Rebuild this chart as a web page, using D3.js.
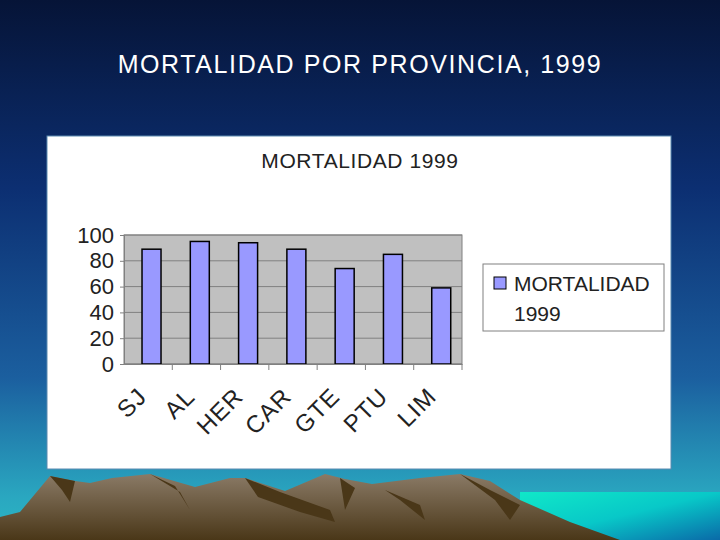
<!DOCTYPE html>
<html><head><meta charset="utf-8">
<script src="https://cdn.jsdelivr.net/npm/d3@7"></script>
<style>body{margin:0;}svg{display:block;}</style>
</head><body>
<div id="chart"></div>
<script>
var categories = ["SJ", "AL", "HER", "CAR", "GTE", "PTU", "LIM"];
var values = [89, 95, 94, 89, 74, 85, 59];
var yTicks = [0, 20, 40, 60, 80, 100];

var svg = d3.select("#chart").append("svg")
    .attr("width", 720)
    .attr("height", 540);

var defs = svg.append("defs");
var bg = defs.append("linearGradient").attr("id", "bg")
    .attr("x1", 0).attr("y1", 0).attr("x2", 0).attr("y2", 1);
bg.append("stop").attr("offset", "0").attr("stop-color", "#061437");
bg.append("stop").attr("offset", "0.35").attr("stop-color", "#0c2f72");
bg.append("stop").attr("offset", "0.7").attr("stop-color", "#1b5f9f");
bg.append("stop").attr("offset", "0.92").attr("stop-color", "#2aa7c0");
bg.append("stop").attr("offset", "1").attr("stop-color", "#2bb8c4");
var sea = defs.append("linearGradient").attr("id", "sea")
    .attr("x1", 0).attr("y1", 0).attr("x2", 1).attr("y2", 1);
sea.append("stop").attr("offset", "0").attr("stop-color", "#10e8c8");
sea.append("stop").attr("offset", "0.5").attr("stop-color", "#08c8c8");
sea.append("stop").attr("offset", "1").attr("stop-color", "#0a6aa8");
var mt = defs.append("linearGradient").attr("id", "mt")
    .attr("x1", 0).attr("y1", 0).attr("x2", 0).attr("y2", 1);
mt.append("stop").attr("offset", "0").attr("stop-color", "#8a7a66");
mt.append("stop").attr("offset", "1").attr("stop-color", "#4a3718");

svg.append("rect").attr("width", 720).attr("height", 540).attr("fill", "url(#bg)");
svg.append("rect").attr("x", 520).attr("y", 492).attr("width", 200).attr("height", 48).attr("fill", "url(#sea)");

// mountains (decoration)
svg.append("path").attr("fill", "url(#mt)")
    .attr("d", "M0,517 L20,512 L50,476 L75,481 L90,483 L112,478 L150,474 L195,487 L230,478 L245,478 L285,491 L325,474 L345,479 L372,484 L420,478 L460,474 L490,481 L520,500 L570,522 L620,540 L0,540 Z");
svg.append("path").attr("fill", "#4a3718")
    .attr("d", "M50,476 L75,481 L70,502 L62,490 Z M150,474 L175,486 L190,510 L180,492 Z M245,478 L280,492 L330,510 L335,522 L300,512 L258,497 Z M340,478 L355,488 L345,510 Z M385,490 L420,505 L425,520 L400,500 Z M460,474 L490,490 L520,505 L510,520 L495,500 Z");

var font = "Liberation Sans, Arial, sans-serif";
svg.append("text").attr("x", 360).attr("y", 73).attr("text-anchor", "middle")
    .attr("fill", "white").attr("font-family", font).attr("letter-spacing", 1.6)
    .attr("font-size", 25).text("MORTALIDAD POR PROVINCIA, 1999");

// white chart panel
svg.append("rect").attr("x", 47).attr("y", 136).attr("width", 624).attr("height", 333)
    .attr("fill", "white").attr("stroke", "#5a8ab0").attr("stroke-width", 1);

svg.append("text").attr("x", 360).attr("y", 168).attr("text-anchor", "middle")
    .attr("font-family", font).attr("font-size", 21).attr("letter-spacing", 0.6).attr("fill", "#222")
    .text("MORTALIDAD 1999");

var xb = d3.scaleBand().domain(categories).range([124, 462]);
var y = d3.scaleLinear().domain([0, 100]).range([364, 235]);
var barW = 19;

svg.append("rect").attr("x", 124).attr("y", 235).attr("width", 338).attr("height", 129)
    .attr("fill", "#c0c0c0").attr("stroke", "#808080");

svg.selectAll(".grid").data(yTicks).enter().append("line")
    .attr("x1", 124).attr("x2", 462)
    .attr("y1", function(d) { return y(d); }).attr("y2", function(d) { return y(d); })
    .attr("stroke", "#808080").attr("stroke-width", 1);

svg.selectAll(".bar").data(values).enter().append("rect")
    .attr("x", function(d, i) { return xb(categories[i]) + xb.bandwidth() * 0.57 - barW / 2; })
    .attr("y", function(d) { return y(d); })
    .attr("width", barW)
    .attr("height", function(d) { return y(0) - y(d); })
    .attr("fill", "#9999ff").attr("stroke", "#000").attr("stroke-width", 1.5);

var ya = svg.append("g").attr("transform", "translate(124,0)")
    .call(d3.axisLeft(y).tickValues(yTicks).tickSize(4).tickPadding(6));
ya.select(".domain").attr("stroke", "#808080");
ya.selectAll("line").attr("stroke", "#808080");
ya.selectAll("text").attr("font-family", font).attr("font-size", 22).attr("fill", "#222");

var xa = svg.append("g").attr("transform", "translate(0,364)")
    .call(d3.axisBottom(xb).tickSize(0).tickFormat(""));
xa.select(".domain").attr("stroke", "#808080");
svg.selectAll(".xtick").data(categories).enter().append("line")
    .attr("x1", function(d) { return xb(d) + xb.bandwidth(); })
    .attr("x2", function(d) { return xb(d) + xb.bandwidth(); })
    .attr("y1", 364).attr("y2", 370).attr("stroke", "#808080");

svg.selectAll(".xl").data(categories).enter().append("text")
    .attr("text-anchor", "end")
    .attr("transform", function(d) { return "translate(" + (xb(d) + xb.bandwidth() / 2) + ",398) rotate(-45)"; })
    .attr("font-family", font).attr("font-size", 24).attr("letter-spacing", 1).attr("fill", "#222")
    .text(function(d) { return d; });

// legend
svg.append("rect").attr("x", 483).attr("y", 264).attr("width", 181).attr("height", 67)
    .attr("fill", "white").attr("stroke", "#808080");
svg.append("rect").attr("x", 494).attr("y", 277).attr("width", 12).attr("height", 12)
    .attr("fill", "#9999ff").attr("stroke", "#000");
svg.append("text").attr("x", 514).attr("y", 291).attr("font-family", font).attr("font-size", 21)
    .attr("fill", "#222").text("MORTALIDAD");
svg.append("text").attr("x", 514).attr("y", 321).attr("font-family", font).attr("font-size", 21)
    .attr("fill", "#222").text("1999");
</script>
</body></html>
